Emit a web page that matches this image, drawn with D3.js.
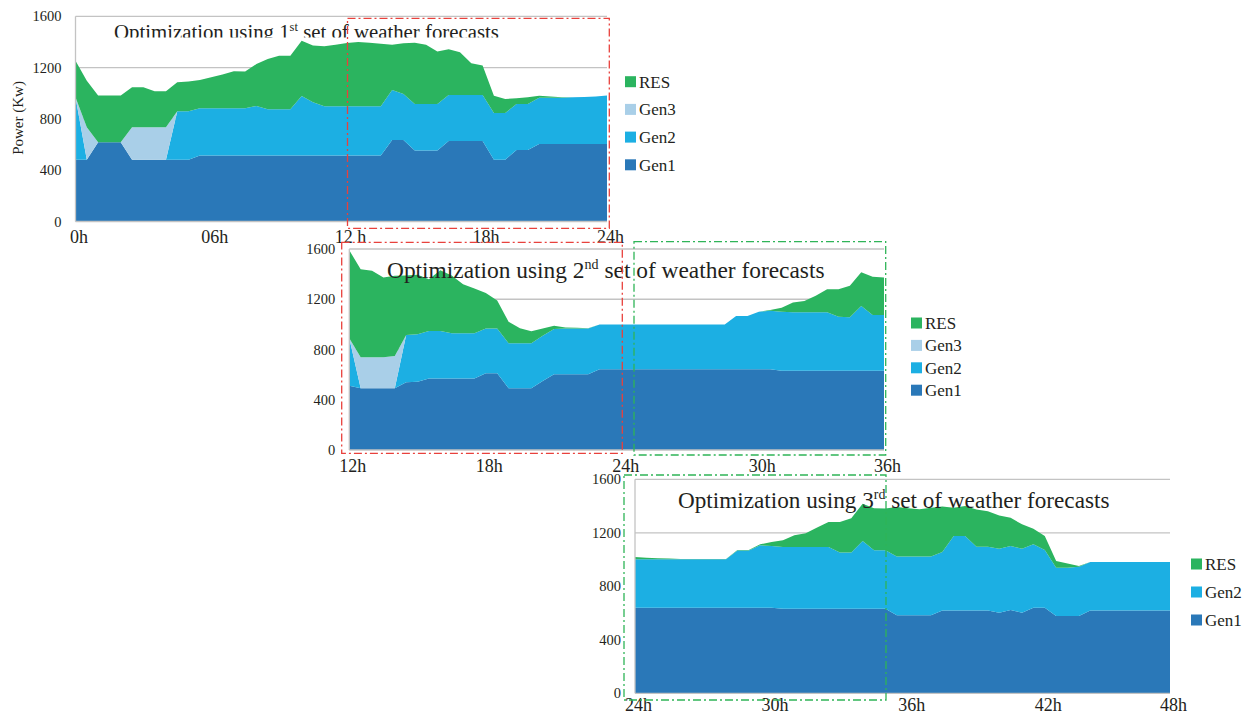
<!DOCTYPE html>
<html><head><meta charset="utf-8">
<script src="https://cdn.jsdelivr.net/npm/d3@7"></script>
<style>
body{margin:0;background:#fff}
svg{display:block}
text{font-family:"Liberation Serif","Times New Roman",serif;fill:#231f20}
</style>
</head><body>
<svg id="c" width="1250" height="715"></svg>
<script>
// ---------- data ----------
const seriesKeys = ["Gen1", "Gen2", "Gen3", "RES"];
const yTicks = [0, 400, 800, 1200, 1600];
const labelIdx = [0, 12, 24, 36, 47];
const p1Labels = ["0h", "06h", "12 h", "18h", "24h"];
const p2Labels = ["12h", "18h", "24h", "30h", "36h"];
const p3Labels = ["24h", "30h", "36h", "42h", "48h"];

const p1Gen1 = [482,482,618,618,618,482,482,482,482,482,482,514,514,514,514,514,514,514,514,514,514,514,514,514,514,514,514,514,636,636,553,553,553,628,628,628,628,482,482,558,558,605,605,605,605,605,605,605];
const p1Gen2 = [486,0,0,0,0,0,0,0,0,377,377,369,369,369,369,369,387,361,361,361,465,416,385,385,385,385,385,385,390,358,364,364,364,359,359,359,359,364,364,359,359,359,359,359,364,366,370,377];
const p1Gen3 = [0,252,0,0,0,252,252,252,252,0,0,0,0,0,0,0,0,0,0,0,0,0,0,0,0,0,0,0,0,0,0,0,0,0,0,0,0,0,0,0,0,0,0,0,0,0,0,0];
const p1Res  = [286,364,364,364,364,312,312,281,281,226,232,221,242,263,289,286,327,392,418,418,431,442,468,479,492,500,494,487,353,395,476,461,409,356,333,247,229,135,109,44,52,16,10,5,0,0,0,0];

const p2Gen1 = [512,491,491,491,491,539,544,570,570,570,570,570,610,610,491,491,491,549,602,602,602,602,642,642,642,642,642,642,642,642,642,642,642,642,642,642,642,642,631,631,631,631,631,631,631,631,631,631];
const p2Gen2 = [377,0,0,0,0,376,377,377,377,359,359,359,358,358,358,358,358,361,361,366,366,366,358,358,358,358,358,358,358,358,358,358,358,358,424,424,459,467,470,465,465,465,465,430,425,515,443,443];
const p2Gen3 = [0,247,247,247,257,0,0,0,0,0,0,0,0,0,0,0,0,0,0,0,0,0,0,0,0,0,0,0,0,0,0,0,0,0,0,0,0,0,0,0,0,0,0,0,0,0,0,0];
const p2Res  = [701,700,688,635,640,475,474,413,483,461,391,356,282,222,171,121,96,58,27,8,6,2,0,0,0,0,0,0,0,0,0,0,0,0,0,0,0,5,32,79,90,132,183,218,252,268,305,300];

const p3Gen1 = [640,640,640,640,640,640,640,640,640,640,640,640,640,633,633,633,633,633,633,633,633,633,633,583,583,583,583,620,620,620,620,620,603,623,603,640,640,578,578,578,620,620,620,620,620,620,620,620];
const p3Gen2 = [362,362,362,362,362,362,362,362,362,427,427,466,461,461,461,461,461,461,419,419,506,436,436,439,439,439,439,437,556,556,476,476,478,478,478,474,432,361,361,369,362,362,362,362,362,362,362,362];
const p3Gen3 = [0,0,0,0,0,0,0,0,0,0,0,0,0,0,0,0,0,0,0,0,0,0,0,0,0,0,0,0,0,0,0,0,0,0,0,0,0,0,0,0,0,0,0,0,0,0,0,0];
const p3Res  = [17,12,7,5,2,2,2,2,2,5,5,8,30,50,87,102,145,187,229,256,279,314,312,371,361,354,366,339,212,224,279,266,249,211,182,117,104,50,32,5,0,0,0,0,0,0,0,0];

// ---------- style ----------
const colors = {Gen1:"#2a78b8", Gen2:"#1cafe3", Gen3:"#a9cfe8", RES:"#2bb45f"};
const gridColor = "#c3c3c3";
const red = "#e8413c", green = "#2fb457";

const svg = d3.select("#c");

const panels = [
  {L:75.5, R:607, T:16.3, B:221.5, gen1:p1Gen1, gen2:p1Gen2, gen3:p1Gen3, res:p1Res, labels:p1Labels,
   legend:["RES","Gen3","Gen2","Gen1"], legX:625, legY:81.7, legStep:27.7,
   title:["Optimization using 1","st"," set of weather forecasts"], titleX:114, titleY:38.8, titleSize:20.8, clipTitle:37.5,
   ylabel:true, xLabY:21.5},
  {L:349.3, R:884, T:249, B:450, gen1:p2Gen1, gen2:p2Gen2, gen3:p2Gen3, res:p2Res, labels:p2Labels,
   legend:["RES","Gen3","Gen2","Gen1"], legX:911, legY:323, legStep:22.4,
   title:["Optimization using 2","nd"," set of weather forecasts"], titleX:387, titleY:277.5, titleSize:23.4,
   xLabY:21.5},
  {L:635, R:1170, T:479.3, B:693.3, gen1:p3Gen1, gen2:p3Gen2, gen3:p3Gen3, res:p3Res, labels:p3Labels,
   legend:["RES","Gen2","Gen1"], legX:1191, legY:564, legStep:28,
   title:["Optimization using 3","rd"," set of weather forecasts"], titleX:678, titleY:507.5, titleSize:23.2,
   xLabY:18}
];

panels.forEach((p, pi) => {
  const g = svg.append("g");
  const rows = p.gen1.map((v, i) => ({Gen1:v, Gen2:p.gen2[i], Gen3:p.gen3[i], RES:p.res[i]}));
  const x = d3.scaleLinear().domain([0, rows.length - 1]).range([p.L, p.R]);
  const y = d3.scaleLinear().domain([0, 1600]).range([p.B, p.T]);

  // grid
  g.selectAll(".grid").data(yTicks.filter(v => v > 0)).join("line")
    .attr("x1", p.L).attr("x2", p.R)
    .attr("y1", d => y(d)).attr("y2", d => y(d))
    .attr("stroke", gridColor).attr("stroke-width", 1.3);

  // stacked areas
  const stacked = d3.stack().keys(seriesKeys)(rows);
  const area = d3.area().x((d, i) => x(i)).y0(d => y(d[0])).y1(d => y(d[1]));
  g.selectAll(".area").data(stacked).join("path")
    .attr("d", area).attr("fill", d => colors[d.key]);

  // axis lines
  g.append("line").attr("x1", p.L).attr("x2", p.L).attr("y1", y(1600)).attr("y2", y(0))
    .attr("stroke", gridColor).attr("stroke-width", 1.3);
  g.append("line").attr("x1", p.L).attr("x2", p.R).attr("y1", y(0)).attr("y2", y(0))
    .attr("stroke", gridColor).attr("stroke-width", 1.3);

  // y axis labels
  const ya = g.append("g").attr("transform", `translate(${p.L},0)`)
    .call(d3.axisLeft(y).tickValues(yTicks).tickSize(0).tickPadding(14).tickFormat(d3.format("d")));
  ya.select(".domain").remove();
  ya.selectAll("text").attr("font-size", 14.5).attr("font-family", "Liberation Serif").attr("fill", "#231f20");

  // x axis labels
  const xa = g.append("g").attr("transform", `translate(0,${p.B})`)
    .call(d3.axisBottom(x).tickValues(labelIdx).tickSize(0).tickFormat((d, i) => p.labels[i]));
  xa.select(".domain").remove();
  xa.selectAll("text").attr("font-size", 18).attr("font-family", "Liberation Serif").attr("fill", "#231f20")
    .attr("dy", null).attr("y", p.xLabY).attr("dx", 3);

  // title
  let tg = g;
  if (p.clipTitle) {
    svg.append("clipPath").attr("id", "tclip" + pi).append("rect")
      .attr("x", 0).attr("y", 0).attr("width", 1250).attr("height", p.clipTitle);
    tg = g.append("g").attr("clip-path", `url(#tclip${pi})`);
  }
  const t = tg.append("text").attr("x", p.titleX).attr("y", p.titleY).attr("font-size", p.titleSize);
  t.append("tspan").text(p.title[0]);
  t.append("tspan").text(p.title[1]).attr("font-size", p.titleSize * 0.6).attr("dy", -p.titleSize * 0.38);
  t.append("tspan").text(p.title[2]).attr("dy", p.titleSize * 0.38);

  // legend
  const lg = g.selectAll(".leg").data(p.legend).join("g")
    .attr("transform", (d, i) => `translate(${p.legX},${p.legY + i * p.legStep})`);
  lg.append("rect").attr("x", 0).attr("y", -5.5).attr("width", 11).attr("height", 11)
    .attr("fill", d => colors[d]);
  lg.append("text").attr("x", 14).attr("y", 6).attr("font-size", 17).text(d => d);

  if (p.ylabel) {
    g.append("text").attr("transform", "translate(23,118) rotate(-90)")
      .attr("text-anchor", "middle").attr("font-size", 15).text("Power (Kw)");
  }
});

// dash-dot frames
const frames = [
  {x1:347.5, x2:609.3, y1:18.3, y2:228.3, c:red},
  {x1:341.7, x2:622.3, y1:242.3, y2:453.3, c:red},
  {x1:634, x2:885.7, y1:241.7, y2:455, c:green},
  {x1:624, x2:886, y1:475, y2:700, c:green}
];
svg.selectAll(".frame").data(frames).join("rect")
  .attr("x", d => d.x1).attr("y", d => d.y1)
  .attr("width", d => d.x2 - d.x1).attr("height", d => d.y2 - d.y1)
  .attr("fill", "none").attr("stroke", d => d.c).attr("stroke-width", 1.3)
  .attr("stroke-dasharray", "8,3,2,3");
</script>
</body></html>
